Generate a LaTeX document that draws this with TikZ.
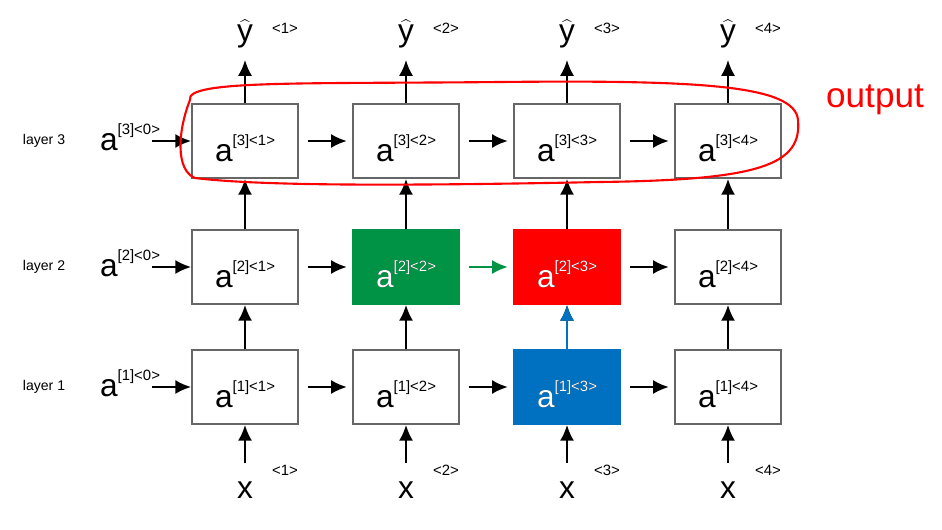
\documentclass[tikz,border=0pt]{standalone}
\usepackage{fontspec}
\setmainfont{Liberation Sans}
\usetikzlibrary{arrows.meta}
\definecolor{cgreen}{RGB}{0,146,69}
\definecolor{cred}{RGB}{255,0,0}
\definecolor{cblue}{RGB}{0,112,192}
\newcommand{\act}[2]{{\fontsize{18}{18}\selectfont a}\raisebox{9pt}{\fontsize{8.5}{9}\selectfont [#1]<#2>}}
\begin{document}
\begin{tikzpicture}[x=0.02cm,y=-0.02cm]
  \tikzset{
    cell/.style={rectangle, draw=black!60, line width=1pt, minimum width=2.12cm, minimum height=1.48cm, inner sep=0pt, fill=white},
    myarrow/.style={-{Latex[length=9pt,width=8pt]}, line width=1.2pt},
    gap/.style={shorten <=5pt, shorten >=3pt},
    mylabel/.style={font=\fontsize{8}{8}\selectfont}
  }
  \useasboundingbox (0,0) rectangle (942,530);

  % cells
  \foreach \l/\yy in {1/387, 2/267, 3/141} {
    \foreach \t/\xx in {1/245, 2/406, 3/567, 4/728} {
      \node[cell] (c\l\t) at (\xx,\yy) {};
    }
    \node[mylabel] (lay\l) at (44,\yy) {layer \l};
    \node (init\l) at (130,\yy-4) {\act{\l}{0}};
    \coordinate (ini\l) at (152,\yy);
  }
  \node[cell, fill=cgreen, draw=cgreen] at (c22) {};
  \node[cell, fill=cred, draw=cred] at (c23) {};
  \node[cell, fill=cblue, draw=cblue] at (c13) {};

  % labels inside cells
  \foreach \l in {1,2,3} {
    \foreach \t in {1,...,4} {
      \node (t\l\t) at ([yshift=-4pt]c\l\t) {\act{\l}{\t}};
    }
  }
  \node[text=white] at (t22) {\act{2}{2}};
  \node[text=white] at (t23) {\act{2}{3}};
  \node[text=white] at (t13) {\act{1}{3}};

  % inputs and outputs
  \foreach \t/\xx in {1/245, 2/406, 3/567, 4/728} {
    \node (x\t) at (\xx,490) {\fontsize{18}{18}\selectfont x};
    \node[font=\fontsize{8.5}{9}\selectfont] (xs\t) at (\xx+40,470) {<\t>};
    \node[inner sep=0pt] (y\t) at (\xx,34) {\fontsize{18}{18}\selectfont $\widehat{\mbox{y}}$};
    \node[font=\fontsize{8.5}{9}\selectfont, inner sep=0pt] (ys\t) at (\xx+40,28) {<\t>};
    \draw[myarrow] (\xx,463) -- (c1\t.south);
    \draw[myarrow] (c1\t.north) -- (c2\t.south);
    \draw[myarrow] (c2\t.north) -- (c3\t.south);
    \draw[myarrow] (c3\t.north) -- (\xx,60);
  }

  % horizontal arrows
  \foreach \l in {1,2,3} {
    \draw[myarrow] (ini\l) -- (c\l1.west);
    \draw[myarrow, gap] (c\l1.east) -- (c\l2.west);
    \draw[myarrow, gap] (c\l3.east) -- (c\l4.west);
  }
  \draw[myarrow, gap] (c12.east) -- (c13.west);
  \draw[myarrow, gap] (c32.east) -- (c33.west);
  \draw[myarrow, cgreen, gap] (c22.east) -- (c23.west);
  \draw[myarrow, cblue] (c13.north) -- (c23.south);

  % hand-drawn outline
  \draw[cred, line width=1.2pt] (190,100) .. controls (185,80) and (300,84) .. (500,82)
    .. controls (700,80) and (795,85) .. (798,120)
    .. controls (802,165) and (760,180) .. (600,182)
    .. controls (400,186) and (260,186) .. (195,178)
    .. controls (175,170) and (178,130) .. (190,100);
  \node[text=cred, font=\fontsize{20}{20}\selectfont] (out) at (875,100) {output};
\end{tikzpicture}
\end{document}
